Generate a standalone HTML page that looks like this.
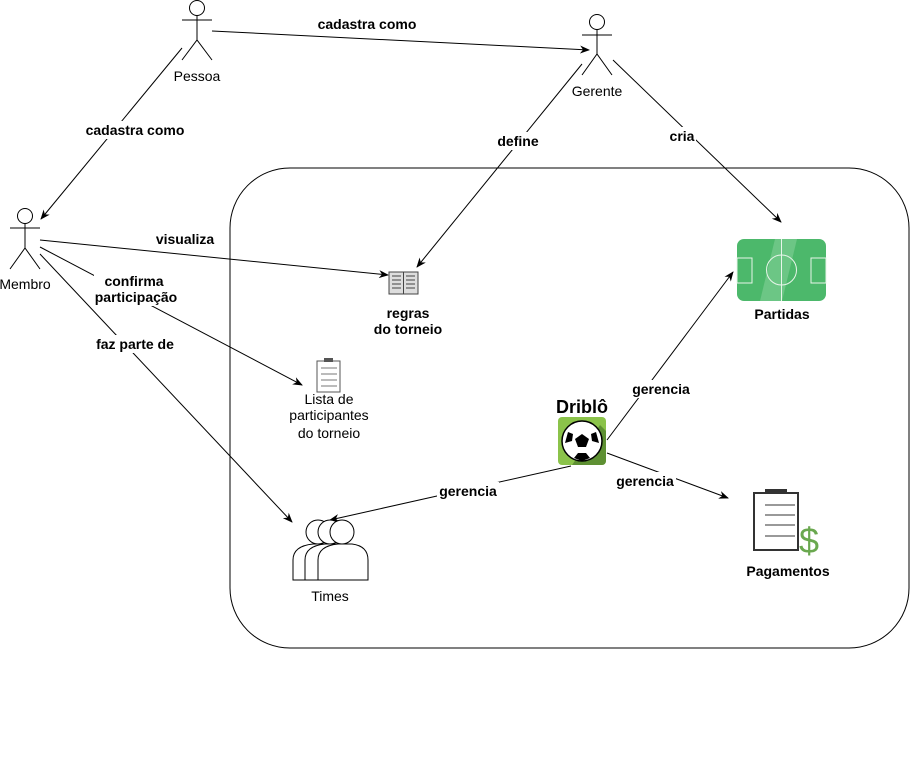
<!DOCTYPE html>
<html><head><meta charset="utf-8"><style>
html,body{margin:0;padding:0;background:#fff;}
svg{display:block;font-family:"Liberation Sans",sans-serif;}
.l{font-size:14px;font-weight:bold;text-anchor:middle;}
.n{font-size:14px;text-anchor:middle;}
.bg{fill:#fff;}
</style></head><body>
<svg width="910" height="759" viewBox="0 0 910 759" xmlns="http://www.w3.org/2000/svg">
<defs><marker id="a" markerWidth="10" markerHeight="8" refX="9" refY="4" orient="auto" markerUnits="userSpaceOnUse"><path d="M0,0 L10,4 L0,8 L3,4 Z" fill="#000"/></marker></defs>
<rect x="230" y="168" width="679" height="480" rx="60" fill="none" stroke="#000"/>
<!-- actors -->
<g fill="#fff" stroke="#000">
<circle cx="197" cy="8" r="7.5"/><path d="M197,15.5V40M182,20H212M182,60L197,40L212,60" fill="none"/>
<circle cx="597" cy="22" r="7.5"/><path d="M597,29.5V54M582,35H612M582,75L597,54L612,75" fill="none"/>
<circle cx="25" cy="216" r="7.5"/><path d="M25,223.5V248M10,228H40M10,269L25,248L40,269" fill="none"/>
</g>
<text class="n" x="197" y="81">Pessoa</text>
<text class="n" x="597" y="96">Gerente</text>
<text class="n" x="25" y="289">Membro</text>
<!-- connectors -->
<g stroke="#000" fill="none" marker-end="url(#a)">
<line x1="212" y1="31" x2="589" y2="50"/>
<line x1="182" y1="48" x2="41" y2="219"/>
<line x1="582" y1="64" x2="417" y2="267"/>
<line x1="613" y1="60" x2="781" y2="222"/>
<line x1="40" y1="240" x2="388" y2="275"/>
<line x1="40" y1="247" x2="302" y2="385"/>
<line x1="40" y1="254" x2="292" y2="522"/>
<line x1="607" y1="440" x2="733" y2="272"/>
<line x1="607" y1="453" x2="728" y2="498"/>
<line x1="571" y1="466" x2="330" y2="520"/>
</g>
<!-- labels with bg -->
<rect class="bg" x="84" y="121" width="102" height="18"/><text class="l" x="135" y="135">cadastra como</text>
<text class="l" x="367" y="29">cadastra como</text>
<rect class="bg" x="496" y="132" width="44" height="18"/><text class="l" x="518" y="146">define</text>
<rect class="bg" x="668" y="127" width="28" height="18"/><text class="l" x="682" y="141">cria</text>
<rect class="bg" x="154" y="230" width="62" height="18"/><text class="l" x="185" y="244">visualiza</text>
<rect class="bg" x="94" y="272" width="86" height="34"/><text class="l" x="134" y="286">confirma</text><text class="l" x="136" y="302">participação</text>
<rect class="bg" x="94" y="335" width="82" height="18"/><text class="l" x="135" y="349">faz parte de</text>
<rect class="bg" x="630" y="380" width="62" height="18"/><text class="l" x="661" y="394">gerencia</text>
<rect class="bg" x="614" y="472" width="62" height="18"/><text class="l" x="645" y="486">gerencia</text>
<rect class="bg" x="437" y="482" width="62" height="18"/><text class="l" x="468" y="496">gerencia</text>
<!-- book -->
<g stroke="#444" fill="#ddd"><path d="M389,272h29v22h-29z"/><path d="M403.5,272v22" fill="none"/>
<path d="M392,276h9M392,280h9M392,284h9M392,288h9M406,276h9M406,280h9M406,284h9M406,288h9" fill="none"/></g>
<text class="l" x="408" y="318">regras</text><text class="l" x="408" y="334">do torneio</text>
<!-- clipboard small -->
<rect x="317" y="361" width="23" height="31" fill="#fff" stroke="#555"/><rect x="324" y="358" width="9" height="4" fill="#555"/>
<g stroke="#777"><path d="M321,368h16M321,374h16M321,380h16M321,386h16"/></g>
<text class="n" x="329" y="404">Lista de</text><text class="n" x="329" y="420">participantes</text><text class="n" x="329" y="438">do torneio</text>
<!-- times -->
<g fill="#fff" stroke="#000">
<path d="M293,580v-20q0,-14,20,-16h14q16,2,16,16v20z"/><circle cx="318" cy="532" r="12"/>
<path d="M305,580v-20q0,-14,20,-16h14q16,2,16,16v20z"/><circle cx="330" cy="532" r="12"/>
<path d="M318,580v-20q0,-14,20,-16h14q16,2,16,16v20z"/><circle cx="342" cy="532" r="12"/>
</g>
<text class="n" x="330" y="601">Times</text>
<!-- driblô -->
<text x="582" y="413" style="font-size:18px;font-weight:bold;text-anchor:middle">Driblô</text>
<rect x="558" y="417" width="48" height="48" rx="4" fill="#8bc34a"/>
<path d="M600,425L606,431V461a4,4 0 0 1 -4,4H572Z" fill="#4c7a2a" opacity="0.7"/>
<circle cx="582" cy="441" r="20" fill="#fff" stroke="#000" stroke-width="1.5"/>
<polygon points="582,434 589,439 586,447 578,447 575,439" fill="#000"/>
<path d="M568,432l5,2l-1,7l-7,2zM596,432l-5,2l1,7l7,2zM574,458l4,-5h8l4,5l-8,3z" fill="#000"/>
<!-- partidas -->
<rect x="737" y="239" width="89" height="62" rx="7" fill="#4cb86b"/>
<polygon points="760,301 775,239 797,239 782,301" fill="#6cc685"/>
<g stroke="#e8f5ea" fill="none"><path d="M781.5,239v62"/><circle cx="781.5" cy="270" r="15"/><rect x="737" y="258" width="15" height="25"/><rect x="811" y="258" width="15" height="25"/></g>
<text class="l" x="782" y="319">Partidas</text>
<!-- pagamentos -->
<rect x="754" y="493" width="44" height="57" fill="#fff" stroke="#333" stroke-width="2"/><rect x="765" y="489" width="22" height="5" fill="#333"/>
<g stroke="#333"><path d="M765,505h30M765,515h30M765,525h30M765,536h30"/></g>
<text x="809" y="553" style="font-size:36px;fill:#6aa84f;text-anchor:middle">$</text>
<text class="l" x="788" y="576">Pagamentos</text>
</svg>
</body></html>
